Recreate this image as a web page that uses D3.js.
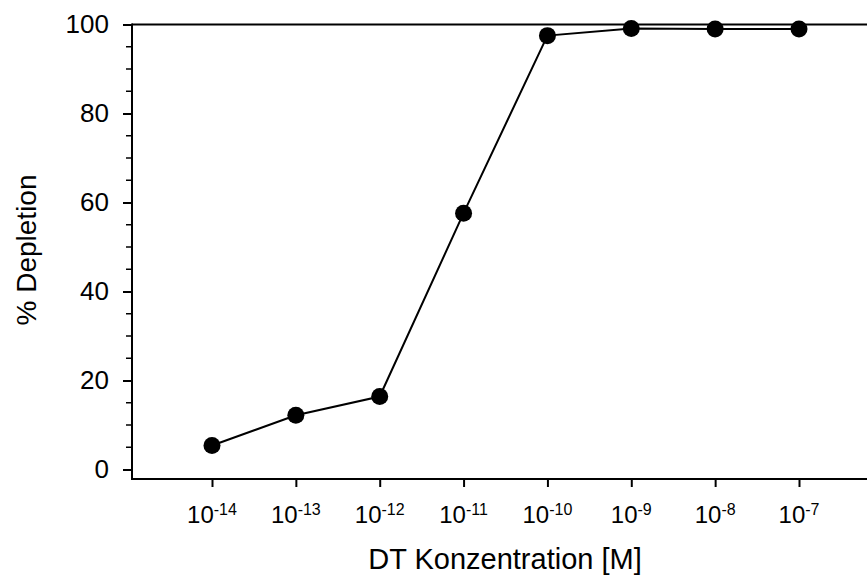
<!DOCTYPE html>
<html><head><meta charset="utf-8">
<script src="https://cdn.jsdelivr.net/npm/d3@7"></script>
<style>body{margin:0;background:#fff}svg{display:block;font-family:Arial,"Liberation Sans",sans-serif}</style>
</head><body>
<svg id="c" width="867" height="577"></svg>
<script>
const exponents = [-14, -13, -12, -11, -10, -9, -8, -7];
const depletion = [5.4, 12.2, 16.4, 57.6, 97.5, 99.1, 99.0, 99.0];
const yTicks = [0, 20, 40, 60, 80, 100];
const xTitle = "DT Konzentration [M]";
const yTitle = "% Depletion";

const svg = d3.select("#c");
const x = d3.scaleLinear().domain([-14, -7]).range([212, 799]);
const y = d3.scaleLinear().domain([0, 100]).range([469.5, 24.5]);
const axisX = 132, axisY = 479, rightX = 867;

// top frame line
svg.append("line").attr("x1", axisX).attr("x2", rightX).attr("y1", y(100)).attr("y2", y(100))
  .attr("stroke", "#000").attr("stroke-width", 2);

// y axis
const ya = svg.append("g").attr("transform", `translate(${axisX},0)`)
  .call(d3.axisLeft(y).tickValues(yTicks).tickSize(9).tickPadding(14).tickFormat(d3.format("d")));
ya.select(".domain").remove();
ya.selectAll(".tick line").attr("stroke-width", 2);
ya.selectAll(".tick text").attr("font-size", 26).attr("font-family", "Arial, 'Liberation Sans', sans-serif").attr("fill", "#000");
const yMinor = d3.range(5, 100, 5).filter(v => v % 20 !== 0);
svg.append("g").selectAll("line").data(yMinor).join("line")
  .attr("x1", axisX - 6).attr("x2", axisX).attr("y1", d => y(d)).attr("y2", d => y(d))
  .attr("stroke", "#000").attr("stroke-width", 1.5);
svg.append("line").attr("x1", axisX).attr("x2", axisX).attr("y1", y(100) - 1).attr("y2", axisY + 1)
  .attr("stroke", "#000").attr("stroke-width", 2);

// x axis
const xa = svg.append("g").attr("transform", `translate(0,${axisY})`)
  .call(d3.axisBottom(x).tickValues(exponents).tickSize(8).tickFormat(""));
xa.select(".domain").remove();
xa.selectAll(".tick line").attr("stroke-width", 2);
svg.append("line").attr("x1", axisX).attr("x2", rightX).attr("y1", axisY).attr("y2", axisY)
  .attr("stroke", "#000").attr("stroke-width", 2);
const lbl = svg.append("g").selectAll("text").data(exponents).join("text")
  .attr("x", d => x(d)).attr("y", 523).attr("text-anchor", "middle").attr("font-size", 24).attr("fill", "#000");
lbl.append("tspan").text("10");
lbl.append("tspan").attr("font-size", 16).attr("dy", -8).text(d => "-" + Math.abs(d));

// line + points
const pts = exponents.map((e, i) => [e, depletion[i]]);
svg.append("path").datum(pts)
  .attr("fill", "none").attr("stroke", "#000").attr("stroke-width", 2)
  .attr("d", d3.line().x(d => x(d[0])).y(d => y(d[1])));
svg.append("g").selectAll("circle").data(pts).join("circle")
  .attr("cx", d => x(d[0])).attr("cy", d => y(d[1])).attr("r", 8.5).attr("fill", "#000");

// titles
svg.append("text").attr("x", 505).attr("y", 569).attr("text-anchor", "middle").attr("font-size", 29).attr("fill", "#000").text(xTitle);
svg.append("text").attr("transform", "translate(36,250) rotate(-90)").attr("text-anchor", "middle").attr("font-size", 28).attr("fill", "#000").text(yTitle);
</script>
</body></html>
